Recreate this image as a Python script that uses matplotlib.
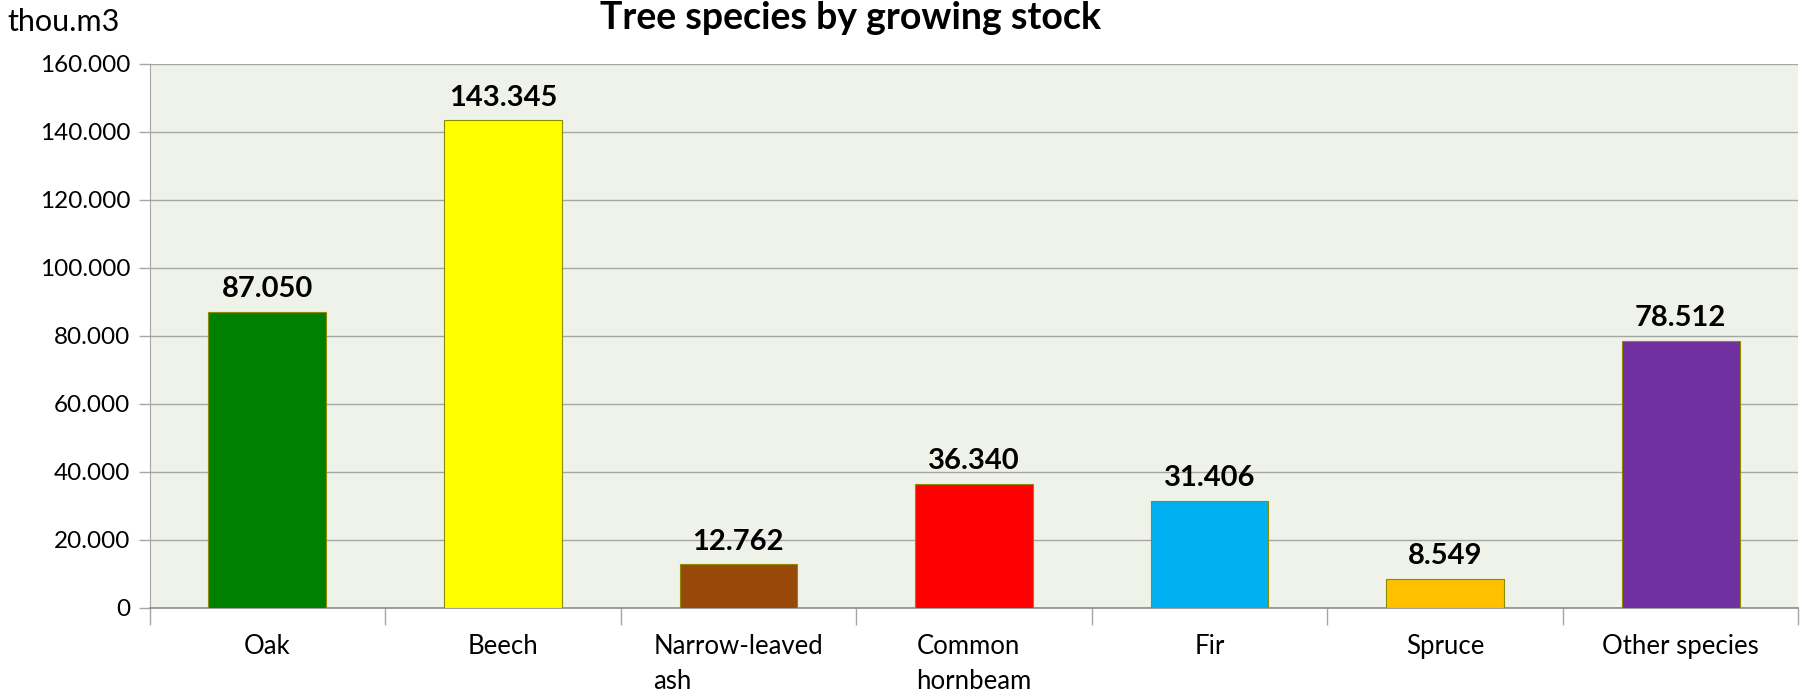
import matplotlib
matplotlib.use("Agg")
import matplotlib.pyplot as plt
from matplotlib.ticker import FixedLocator
import numpy as np

categories = ["Oak", "Beech", "Narrow-leaved\nash", "Common\nhornbeam", "Fir", "Spruce", "Other species"]
values = [87.050, 143.345, 12.762, 36.340, 31.406, 8.549, 78.512]
labels = ["87.050", "143.345", "12.762", "36.340", "31.406", "8.549", "78.512"]
colors = ["#008000", "#FFFF00", "#984807", "#FF0000", "#00B0F0", "#FFC000", "#7030A0"]
yticks = [0, 20, 40, 60, 80, 100, 120, 140, 160]
yticklabels = ["0", "20.000", "40.000", "60.000", "80.000", "100.000", "120.000", "140.000", "160.000"]

plt.rcParams['font.family'] = ['Lato', 'DejaVu Sans']

fig = plt.figure(figsize=(18.02, 6.93), dpi=100)
ax = fig.add_axes([0.083, 0.123, 0.915, 0.785])
ax.set_facecolor("#EFF2E9")

x = np.arange(len(categories))
ax.bar(x, values, width=0.5, color=colors, edgecolor="#8C8C00", linewidth=0.8, zorder=3)

for xi, v, lab in zip(x, values, labels):
    ax.annotate(lab, (xi, v), xytext=(0, 7), textcoords="offset points",
                ha="center", va="bottom", fontsize=21, fontweight="bold", color="black")

ax.set_xlim(-0.5, len(categories) - 0.5)
ax.set_ylim(0, 160)
ax.set_yticks(yticks)
ax.set_yticklabels(yticklabels, fontsize=17.5)
ax.yaxis.grid(True, color="#A6A6A6", linewidth=1.0, zorder=0)
ax.set_axisbelow(True)

ax.set_xticks(x)
ax.set_xticklabels(categories, fontsize=18.5, ha="center", multialignment="left", va="top",
                   linespacing=1.5)
ax.tick_params(axis="x", length=0, pad=19)
ax.xaxis.set_minor_locator(FixedLocator(np.arange(-0.5, len(categories), 1.0)))
ax.tick_params(axis="x", which="minor", length=12, color="#A6A6A6", width=1.0)
ax.tick_params(axis="y", length=8, color="#A6A6A6", width=1.0, pad=6)

for s in ["top", "right"]:
    ax.spines[s].set_visible(False)
ax.spines["left"].set_color("#A6A6A6")
ax.spines["bottom"].set_color("#8C8C8C")
ax.spines["bottom"].set_linewidth(1.2)

fig.text(0.472, 0.999, "Tree species by growing stock", ha="center", va="top",
         fontsize=27, fontweight="bold")
fig.text(0.004, 0.968, "thou.m3", ha="left", va="center", fontsize=22)

fig.savefig("out.png", dpi=100)
